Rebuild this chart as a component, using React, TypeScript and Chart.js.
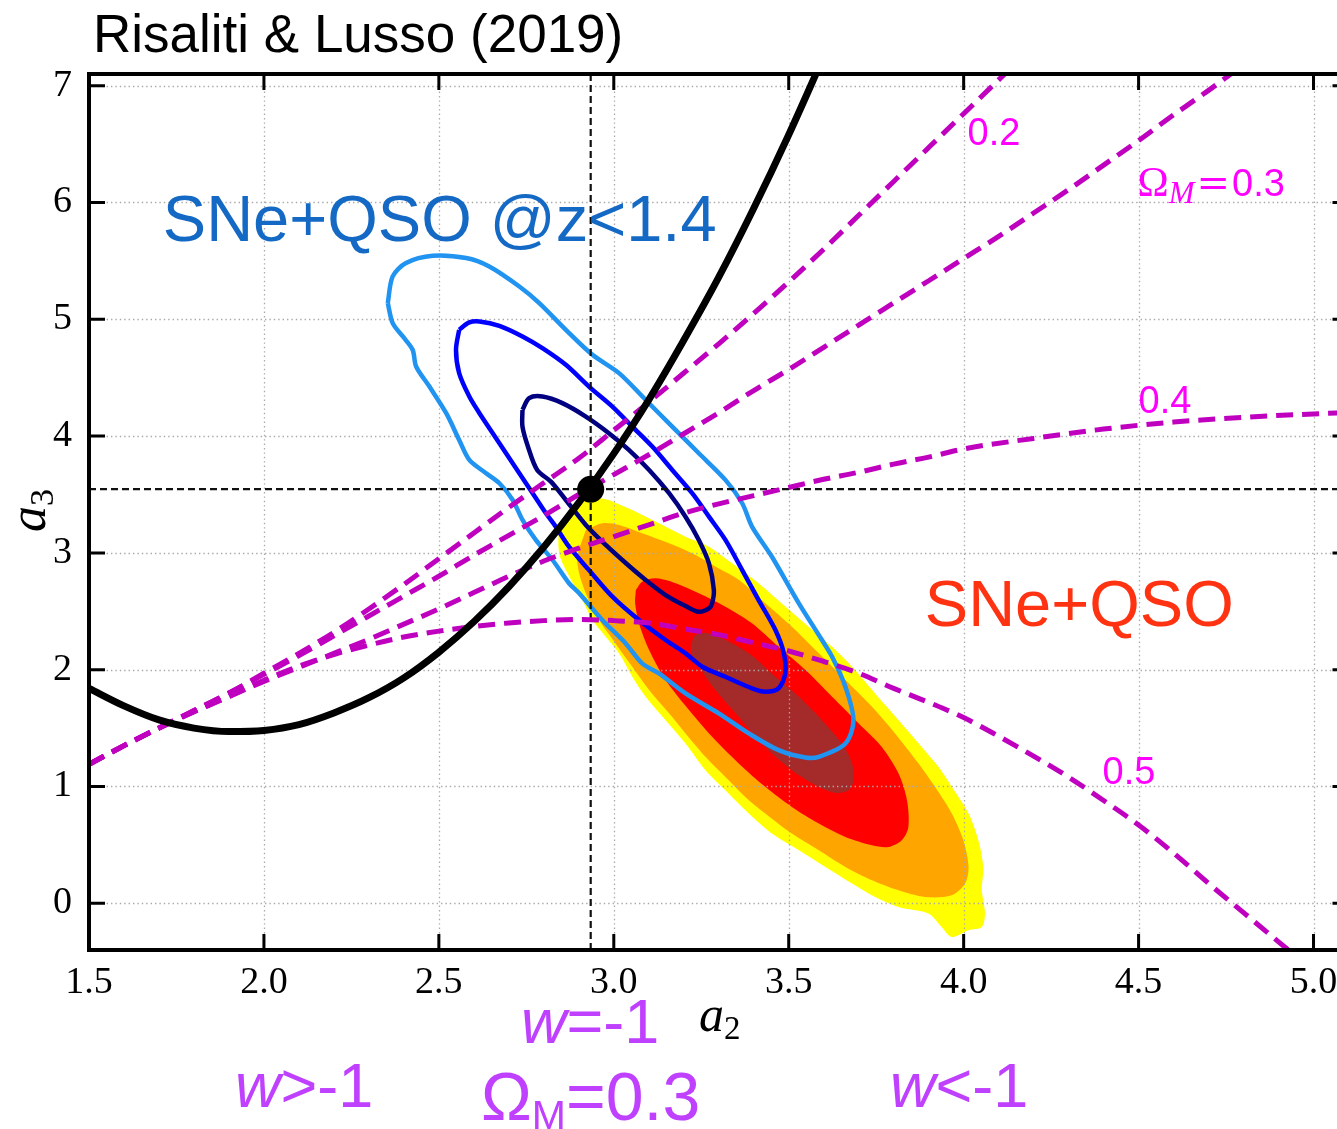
import { useEffect, useRef } from 'react';
import { Chart, registerables } from 'chart.js';

Chart.register(...registerables);

type Pt = [number, number];

// Axis ranges and ticks
const X_MIN = 1.5;
const X_MAX = 5.1;
const Y_MIN = -0.4;
const Y_MAX = 7.1;
const xTickValues = [1.5, 2.0, 2.5, 3.0, 3.5, 4.0, 4.5, 5.0];
const yTickValues = [0, 1, 2, 3, 4, 5, 6, 7];

// Flat LCDM best point (Omega_M = 0.3, w = -1)
const bestFit: Pt = [2.934, 3.545];

// LCDM track (w = -1, varying Omega_M)
const lcdmTrack: Pt[] = [
  [1.5, 1.84], [1.6, 1.69], [1.7, 1.57], [1.8, 1.5], [1.9, 1.47], [2.0, 1.48],
  [2.1, 1.53], [2.2, 1.63], [2.3, 1.76], [2.4, 1.93], [2.5, 2.15], [2.6, 2.41],
  [2.7, 2.71], [2.8, 3.05], [2.9, 3.43], [3.0, 3.85], [3.1, 4.31], [3.2, 4.82],
  [3.3, 5.36], [3.4, 5.95], [3.5, 6.58], [3.6, 7.25],
];

// Constant Omega_M tracks with varying w
const omega02: Pt[] = [
  [1.5, 1.19], [1.6, 1.35], [1.7, 1.5], [1.8, 1.65], [1.9, 1.8], [2.0, 1.97],
  [2.1, 2.14], [2.2, 2.32], [2.3, 2.52], [2.4, 2.73], [2.5, 2.95], [2.6, 3.17],
  [2.7, 3.39], [2.8, 3.6], [2.9, 3.81], [3.0, 4.05], [3.1, 4.29], [3.2, 4.54],
  [3.3, 4.79], [3.4, 5.05], [3.5, 5.32], [3.6, 5.6], [3.7, 5.89], [3.8, 6.18],
  [3.9, 6.47], [4.0, 6.76], [4.1, 7.05], [4.2, 7.34],
];
const omega03: Pt[] = [
  [1.5, 1.19], [1.6, 1.35], [1.7, 1.5], [1.8, 1.65], [1.9, 1.8], [2.0, 1.96],
  [2.1, 2.12], [2.2, 2.29], [2.3, 2.46], [2.4, 2.63], [2.5, 2.8], [2.6, 2.98],
  [2.7, 3.15], [2.8, 3.32], [2.9, 3.5], [3.0, 3.67], [3.1, 3.84], [3.2, 4.02],
  [3.3, 4.2], [3.4, 4.39], [3.5, 4.57], [3.6, 4.76], [3.7, 4.95], [3.8, 5.14],
  [3.9, 5.33], [4.0, 5.52], [4.1, 5.71], [4.2, 5.91], [4.3, 6.11], [4.4, 6.32],
  [4.5, 6.53], [4.6, 6.75], [4.7, 6.96], [4.8, 7.18],
];
const omega04: Pt[] = [
  [1.5, 1.19], [1.6, 1.35], [1.7, 1.5], [1.8, 1.64], [1.9, 1.77], [2.0, 1.9],
  [2.1, 2.02], [2.2, 2.14], [2.3, 2.26], [2.4, 2.39], [2.5, 2.52], [2.6, 2.66],
  [2.7, 2.8], [2.8, 2.93], [2.9, 3.04], [3.0, 3.14], [3.1, 3.24], [3.2, 3.34],
  [3.3, 3.42], [3.4, 3.49], [3.5, 3.56], [3.6, 3.63], [3.7, 3.69], [3.8, 3.76],
  [3.9, 3.82], [4.0, 3.89], [4.2, 3.98], [4.4, 4.06], [4.6, 4.12], [4.8, 4.16],
  [5.0, 4.19], [5.1, 4.2],
];
const omega05: Pt[] = [
  [1.5, 1.19], [1.6, 1.35], [1.7, 1.5], [1.8, 1.64], [1.9, 1.77], [2.0, 1.91],
  [2.1, 2.03], [2.2, 2.13], [2.3, 2.21], [2.4, 2.28], [2.5, 2.33], [2.6, 2.37],
  [2.7, 2.4], [2.8, 2.42], [2.9, 2.43], [3.0, 2.42], [3.1, 2.4], [3.2, 2.35],
  [3.3, 2.3], [3.4, 2.23], [3.5, 2.16], [3.6, 2.07], [3.7, 1.97], [3.8, 1.84],
  [3.9, 1.72], [4.0, 1.59], [4.1, 1.43], [4.2, 1.26], [4.3, 1.08], [4.4, 0.88],
  [4.5, 0.67], [4.6, 0.43], [4.7, 0.17], [4.8, -0.08], [4.9, -0.33], [5.0, -0.58],
];

// SNe+QSO @ z<1.4 contours (outer to inner)
const lowZ3sigma: Pt[] = [
  [2.354, 5.139], [2.368, 5.367], [2.406, 5.482], [2.482, 5.544], [2.578, 5.524],
  [2.644, 5.452], [2.73, 5.281], [2.787, 5.139], [2.863, 4.91], [2.939, 4.696],
  [3.015, 4.539], [3.091, 4.31], [3.167, 4.081], [3.243, 3.853], [3.319, 3.625],
  [3.367, 3.425], [3.395, 3.225], [3.452, 2.967], [3.529, 2.568], [3.595, 2.254],
  [3.624, 2.111], [3.662, 1.854], [3.685, 1.568], [3.662, 1.368], [3.586, 1.254],
  [3.547, 1.248], [3.471, 1.311], [3.386, 1.454], [3.3, 1.626], [3.205, 1.797],
  [3.129, 1.968], [3.081, 2.054], [3.034, 2.225], [2.967, 2.425], [2.901, 2.654],
  [2.872, 2.74], [2.825, 2.939], [2.777, 3.111], [2.739, 3.282], [2.711, 3.453],
  [2.673, 3.596], [2.635, 3.682], [2.587, 3.796], [2.558, 3.967], [2.521, 4.196],
  [2.473, 4.424], [2.435, 4.596], [2.425, 4.739], [2.397, 4.853], [2.368, 4.967],
  [2.354, 5.139],
];
const lowZ2sigma: Pt[] = [
  [2.558, 4.91], [2.587, 4.973], [2.616, 4.981], [2.673, 4.944], [2.739, 4.853],
  [2.796, 4.753], [2.863, 4.61], [2.929, 4.424], [2.996, 4.253], [3.053, 4.081],
  [3.11, 3.91], [3.167, 3.71], [3.224, 3.511], [3.272, 3.31], [3.319, 3.111],
  [3.367, 2.853], [3.414, 2.596], [3.462, 2.339], [3.486, 2.14], [3.49, 1.968],
  [3.471, 1.84], [3.433, 1.811], [3.395, 1.84], [3.319, 1.939], [3.253, 2.025],
  [3.205, 2.14], [3.148, 2.254], [3.072, 2.425], [2.996, 2.625], [2.929, 2.853],
  [2.872, 3.053], [2.834, 3.225], [2.806, 3.339], [2.768, 3.511], [2.73, 3.682],
  [2.692, 3.853], [2.654, 4.025], [2.616, 4.196], [2.587, 4.339], [2.558, 4.539],
  [2.549, 4.739], [2.558, 4.91],
];
const lowZ1sigma: Pt[] = [
  [2.739, 4.224], [2.758, 4.325], [2.796, 4.339], [2.853, 4.282], [2.92, 4.167],
  [2.986, 4.025], [3.043, 3.882], [3.101, 3.71], [3.158, 3.511], [3.205, 3.31],
  [3.243, 3.111], [3.272, 2.911], [3.286, 2.682], [3.281, 2.568], [3.272, 2.525],
  [3.243, 2.496], [3.205, 2.545], [3.148, 2.639], [3.091, 2.768], [3.034, 2.913],
  [2.977, 3.068], [2.92, 3.239], [2.863, 3.453], [2.821, 3.608], [2.781, 3.71],
  [2.755, 3.907], [2.739, 4.081], [2.739, 4.224],
];

// SNe+QSO full-sample filled contours (outer to inner)
const fullOuter: Pt[] = [
  [2.986, 3.453], [3.063, 3.353], [3.129, 3.254], [3.205, 3.139], [3.272, 3.053],
  [3.338, 2.911], [3.414, 2.74], [3.491, 2.539], [3.557, 2.368], [3.624, 2.196],
  [3.681, 2.025], [3.747, 1.797], [3.814, 1.568], [3.88, 1.339], [3.928, 1.168],
  [3.966, 0.997], [4.014, 0.769], [4.042, 0.54], [4.056, 0.311], [4.052, 0.111],
  [4.061, -0.088], [4.052, -0.203], [4.014, -0.231], [3.966, -0.289], [3.937, -0.203],
  [3.899, -0.088], [3.814, -0.032], [3.747, 0.054], [3.681, 0.169], [3.605, 0.311],
  [3.529, 0.454], [3.452, 0.597], [3.386, 0.769], [3.319, 0.968], [3.262, 1.14],
  [3.205, 1.368], [3.148, 1.568], [3.091, 1.768], [3.053, 1.939], [3.015, 2.14],
  [2.977, 2.282], [2.939, 2.425], [2.91, 2.596], [2.863, 2.853], [2.844, 2.996],
  [2.844, 3.196], [2.863, 3.31], [2.901, 3.425], [2.958, 3.468], [2.986, 3.453],
];
const full3sigma: Pt[] = [
  [2.92, 3.196], [2.967, 3.254], [3.015, 3.239], [3.081, 3.168], [3.158, 3.082],
  [3.224, 2.996], [3.291, 2.882], [3.358, 2.768], [3.433, 2.568], [3.509, 2.368],
  [3.586, 2.14], [3.662, 1.911], [3.738, 1.682], [3.804, 1.454], [3.871, 1.197],
  [3.918, 0.997], [3.966, 0.769], [3.999, 0.54], [4.014, 0.311], [4.004, 0.169],
  [3.966, 0.069], [3.89, 0.054], [3.814, 0.111], [3.738, 0.197], [3.662, 0.311],
  [3.586, 0.454], [3.509, 0.597], [3.433, 0.769], [3.376, 0.911], [3.319, 1.082],
  [3.262, 1.254], [3.205, 1.454], [3.158, 1.626], [3.101, 1.825], [3.053, 2.025],
  [3.005, 2.225], [2.958, 2.425], [2.92, 2.654], [2.901, 2.825], [2.896, 2.967],
  [2.92, 3.196],
];
const full2sigma: Pt[] = [
  [3.063, 2.682], [3.081, 2.753], [3.12, 2.782], [3.177, 2.74], [3.243, 2.654],
  [3.319, 2.539], [3.395, 2.397], [3.471, 2.196], [3.548, 1.997], [3.624, 1.768],
  [3.7, 1.54], [3.766, 1.339], [3.814, 1.111], [3.838, 0.883], [3.842, 0.654],
  [3.823, 0.54], [3.785, 0.482], [3.738, 0.497], [3.662, 0.568], [3.586, 0.683],
  [3.509, 0.825], [3.433, 0.997], [3.357, 1.197], [3.281, 1.425], [3.215, 1.654],
  [3.148, 1.911], [3.101, 2.168], [3.072, 2.397], [3.061, 2.568], [3.063, 2.682],
];
const full1sigma: Pt[] = [
  [3.22, 2.211], [3.234, 2.296], [3.262, 2.316], [3.319, 2.254], [3.386, 2.14],
  [3.462, 1.939], [3.529, 1.768], [3.595, 1.568], [3.652, 1.368], [3.681, 1.197],
  [3.685, 1.054], [3.671, 0.968], [3.633, 0.945], [3.586, 0.997], [3.509, 1.14],
  [3.433, 1.339], [3.357, 1.596], [3.291, 1.825], [3.243, 2.025], [3.222, 2.14],
  [3.22, 2.211],
];

const SANS = '"Liberation Sans", Arial, sans-serif';
const SERIF = '"Liberation Serif", "DejaVu Serif", serif';
const WIDE_SERIF = '"DejaVu Serif", serif';

const W = 1370;
const H = 1129;
const AREA_TOP = 74;
const AREA_BOTTOM = 950;
const AREA_LEFT = 89;
const AREA_RIGHT = 1348.5;

const MAGENTA = '#BF00BF';
const LABEL_MAGENTA = '#FF00FF';
const W_PURPLE = '#BF40FF';

type Run = { text: string; font: string; dy?: number; pre?: number };

function drawRuns(ctx: CanvasRenderingContext2D, x: number, y: number, runs: Run[], color: string) {
  ctx.fillStyle = color;
  ctx.textAlign = 'left';
  ctx.textBaseline = 'alphabetic';
  let cx = x;
  for (const r of runs) {
    cx += r.pre ?? 0;
    ctx.font = r.font;
    ctx.fillText(r.text, cx, y + (r.dy ?? 0));
    cx += ctx.measureText(r.text).width;
  }
}

const xy = (pts: Pt[]) => pts.map(([x, y]) => ({ x, y }));

const decorPlugin = {
  id: 'paperDecor',
  afterDatasetDraw(chart: any, args: any) {
    // dotted grid sits above the filled contours but below the lines
    if (chart.data.datasets[args.index].label !== 'full 1σ') return;
    const { ctx, chartArea: a, scales } = chart;
    ctx.save();
    ctx.strokeStyle = '#a9a9a9';
    ctx.lineWidth = 1.3;
    ctx.setLineDash([1.4, 3]);
    for (const t of scales.x.ticks) {
      const px = Math.round(scales.x.getPixelForValue(t.value)) + 0.5;
      if (px < a.left + 3) continue;
      ctx.beginPath();
      ctx.moveTo(px, a.top);
      ctx.lineTo(px, a.bottom);
      ctx.stroke();
    }
    for (const t of scales.y.ticks) {
      const py = Math.round(scales.y.getPixelForValue(t.value)) + 0.5;
      ctx.beginPath();
      ctx.moveTo(a.left, py);
      ctx.lineTo(a.right, py);
      ctx.stroke();
    }
    ctx.restore();
  },
  afterDraw(chart: any) {
    const { ctx, chartArea: a, scales } = chart;
    const sx = scales.x;
    const sy = scales.y;
    ctx.save();
    // inward ticks on all four sides
    ctx.strokeStyle = '#000';
    ctx.lineWidth = 3;
    ctx.setLineDash([]);
    const TL = 16;
    for (const t of sx.ticks) {
      const px = sx.getPixelForValue(t.value);
      ctx.beginPath();
      ctx.moveTo(px, a.bottom);
      ctx.lineTo(px, a.bottom - TL);
      ctx.moveTo(px, a.top);
      ctx.lineTo(px, a.top + TL);
      ctx.stroke();
    }
    for (const t of sy.ticks) {
      const py = sy.getPixelForValue(t.value);
      ctx.beginPath();
      ctx.moveTo(a.left, py);
      ctx.lineTo(a.left + TL, py);
      ctx.moveTo(a.right, py);
      ctx.lineTo(a.right - TL, py);
      ctx.stroke();
    }
    // frame
    ctx.lineWidth = 4;
    ctx.strokeRect(a.left, a.top, a.right - a.left, a.bottom - a.top);

    // in-plot annotations placed in data coordinates
    const at = (x: number, y: number): Pt => [sx.getPixelForValue(x), sy.getPixelForValue(y)];
    let p = at(4.011, 6.495);
    drawRuns(ctx, p[0], p[1], [{ text: '0.2', font: `38px ${SANS}` }], LABEL_MAGENTA);
    p = at(4.497, 6.058);
    drawRuns(ctx, p[0], p[1], [
      { text: 'Ω', font: `42px ${SERIF}` },
      { text: 'M', font: `italic 31px ${SERIF}`, dy: 7 },
      { text: '=', font: `40px ${WIDE_SERIF}`, pre: 2 },
      { text: '0.3', font: `38px ${SANS}`, pre: 2 },
    ], LABEL_MAGENTA);
    p = at(4.5, 4.199);
    drawRuns(ctx, p[0], p[1], [{ text: '0.4', font: `38px ${SANS}` }], LABEL_MAGENTA);
    p = at(4.397, 1.02);
    drawRuns(ctx, p[0], p[1], [{ text: '0.5', font: `38px ${SANS}` }], LABEL_MAGENTA);
    p = at(1.711, 5.673);
    drawRuns(ctx, p[0], p[1], [{ text: 'SNe+QSO @z<1.4', font: `65px ${SANS}` }], '#1469C4');
    p = at(3.889, 2.374);
    drawRuns(ctx, p[0], p[1], [{ text: 'SNe+QSO', font: `65px ${SANS}` }], '#FF3311');

    // title
    drawRuns(ctx, 93, 52, [{ text: 'Risaliti & Lusso (2019)', font: `53px ${SANS}` }], '#000');

    // axis titles
    drawRuns(ctx, 699, 1031, [
      { text: 'a', font: `italic 50px ${SERIF}` },
      { text: '2', font: `33px ${SERIF}`, dy: 8 },
    ], '#000');
    ctx.save();
    ctx.translate(45, 532);
    ctx.rotate(-Math.PI / 2);
    drawRuns(ctx, 0, 0, [
      { text: 'a', font: `italic 52px ${SERIF}` },
      { text: '3', font: `34px ${SERIF}`, dy: 8 },
    ], '#000');
    ctx.restore();

    // equation-of-state notes under the axis
    drawRuns(ctx, 521, 1043, [
      { text: 'w', font: `italic 63px ${SANS}` },
      { text: '=-1', font: `63px ${SANS}` },
    ], W_PURPLE);
    drawRuns(ctx, 235, 1107, [
      { text: 'w', font: `italic 63px ${SANS}` },
      { text: '>-1', font: `63px ${SANS}` },
    ], W_PURPLE);
    drawRuns(ctx, 890, 1107, [
      { text: 'w', font: `italic 63px ${SANS}` },
      { text: '<-1', font: `63px ${SANS}` },
    ], W_PURPLE);
    drawRuns(ctx, 481, 1120, [
      { text: 'Ω', font: `68px ${SANS}` },
      { text: 'M', font: `41px ${SANS}`, dy: 9 },
      { text: '=0.3', font: `68px ${SANS}` },
    ], W_PURPLE);
    ctx.restore();
  },
};

export default function App() {
  const canvasRef = useRef<HTMLCanvasElement | null>(null);

  useEffect(() => {
    const canvas = canvasRef.current;
    if (!canvas) return;

    const filled = (label: string, pts: Pt[], color: string, order: number) => ({
      label,
      data: xy(pts),
      showLine: true,
      fill: 'shape',
      backgroundColor: color,
      borderColor: 'rgba(0,0,0,0)',
      borderWidth: 1,
      pointRadius: 0,
      tension: 0.3,
      order,
    });
    const outline = (label: string, pts: Pt[], color: string, order: number) => ({
      label,
      data: xy(pts),
      showLine: true,
      fill: false,
      borderColor: color,
      borderWidth: 4.5,
      pointRadius: 0,
      tension: 0.3,
      order,
    });
    const track = (label: string, pts: Pt[], order: number) => ({
      label,
      data: xy(pts),
      showLine: true,
      fill: false,
      borderColor: MAGENTA,
      borderWidth: 5,
      borderDash: [17, 9],
      pointRadius: 0,
      cubicInterpolationMode: 'monotone',
      order,
    });
    const refLine = (label: string, pts: Pt[], order: number) => ({
      label,
      data: xy(pts),
      showLine: true,
      fill: false,
      borderColor: '#111',
      borderWidth: 2.2,
      borderDash: [7, 4],
      pointRadius: 0,
      order,
    });

    const datasets: any[] = [
      {
        label: 'ΛCDM best',
        data: xy([bestFit]),
        showLine: false,
        pointRadius: 13.5,
        pointBackgroundColor: '#000',
        pointBorderWidth: 0,
        order: 0,
      },
      {
        label: 'w=-1 track',
        data: xy(lcdmTrack),
        showLine: true,
        fill: false,
        borderColor: '#000',
        borderWidth: 7,
        pointRadius: 0,
        cubicInterpolationMode: 'monotone',
        order: 1,
      },
      track('ΩM=0.2', omega02, 2),
      track('ΩM=0.3', omega03, 3),
      track('ΩM=0.4', omega04, 4),
      track('ΩM=0.5', omega05, 5),
      refLine('a2 ref', [[bestFit[0], Y_MIN], [bestFit[0], Y_MAX]], 6),
      refLine('a3 ref', [[X_MIN, bestFit[1]], [X_MAX, bestFit[1]]], 7),
      outline('low-z 1σ', lowZ1sigma, '#000080', 8),
      outline('low-z 2σ', lowZ2sigma, '#0000FF', 9),
      outline('low-z 3σ', lowZ3sigma, '#2094F0', 10),
      filled('full 1σ', full1sigma, '#A52A2A', 11),
      filled('full 2σ', full2sigma, '#FF0000', 12),
      filled('full 3σ', full3sigma, '#FFA500', 13),
      filled('full outer', fullOuter, '#FFFF00', 14),
    ];

    const chart = new Chart(canvas, {
      type: 'scatter',
      data: { datasets },
      options: {
        responsive: false,
        animation: false,
        devicePixelRatio: 1,
        events: [],
        layout: { padding: { top: AREA_TOP, right: W - AREA_RIGHT, left: 0, bottom: 0 } },
        plugins: {
          legend: { display: false },
          tooltip: { enabled: false },
        },
        scales: {
          x: {
            type: 'linear',
            min: X_MIN,
            max: X_MAX,
            afterBuildTicks: (s: any) => {
              s.ticks = xTickValues.map((v) => ({ value: v }));
            },
            afterFit: (s: any) => {
              s.height = H - AREA_BOTTOM;
            },
            grid: { display: false },
            border: { display: false },
            ticks: {
              color: '#000',
              font: { family: SERIF, size: 38 },
              padding: 2,
              maxRotation: 0,
              autoSkip: false,
              callback: (v: any) => Number(v).toFixed(1),
            },
          },
          y: {
            type: 'linear',
            min: Y_MIN,
            max: Y_MAX,
            afterBuildTicks: (s: any) => {
              s.ticks = yTickValues.map((v) => ({ value: v }));
            },
            afterFit: (s: any) => {
              s.width = AREA_LEFT;
            },
            grid: { display: false },
            border: { display: false },
            ticks: {
              color: '#000',
              font: { family: SERIF, size: 38 },
              padding: 9,
              autoSkip: false,
              callback: (v: any) => String(v),
            },
          },
        },
      } as any,
      plugins: [decorPlugin],
    });

    return () => chart.destroy();
  }, []);

  return (
    <div
      style={{
        position: 'fixed',
        left: 0,
        top: 0,
        width: 1337,
        height: 1129,
        overflow: 'hidden',
        background: '#fff',
      }}
    >
      <canvas ref={canvasRef} width={W} height={H} style={{ display: 'block', width: W, height: H }} />
    </div>
  );
}
